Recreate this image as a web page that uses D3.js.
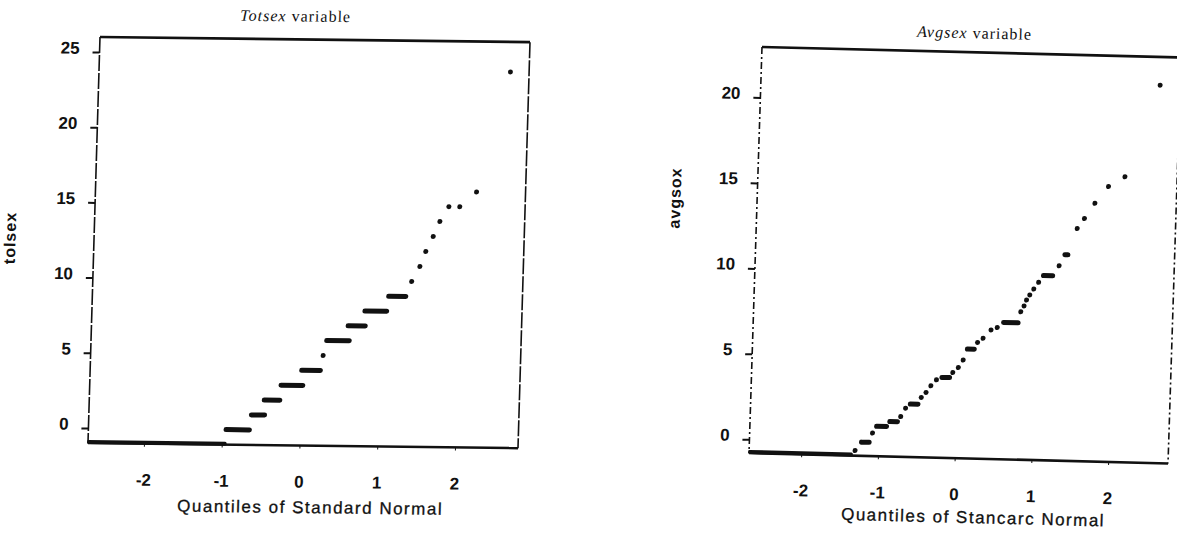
<!DOCTYPE html>
<html>
<head>
<meta charset="utf-8">
<script src="https://cdn.jsdelivr.net/npm/d3@7"></script>
<style>
  body { margin: 0; background: #fff; }
  svg { display: block; }
  text { font-family: "Liberation Sans", Arial, sans-serif; fill: #111; }
</style>
</head>
<body>
<div class="chart"></div>
<script>
// Totsex: tied values show up as runs over a range of normal quantiles
const totsexValues = [-1, 0, 1, 2, 3, 4, 5, 6, 7, 8, 9, 10, 11, 12, 13, 14, 15, 15, 16, 24]
const totsexQStart = [-2.70, -0.95, -0.63, -0.47, -0.26, 0.00, 0.27, 0.31, 0.58, 0.79, 1.09, 1.38, 1.48, 1.55, 1.64, 1.72, 1.83, 1.97, 2.18, 2.57]
const totsexQEnd   = [-0.97, -0.65, -0.46, -0.27, 0.02, 0.24, 0.27, 0.60, 0.80, 1.07, 1.31, 1.38, 1.48, 1.55, 1.64, 1.72, 1.83, 1.97, 2.18, 2.57]

// Avgsex
const avgsexValues = [-0.8, -0.5, 0.0, 0.55, 0.95, 1.25, 1.55, 2.05, 2.3, 2.7, 3.0, 3.4, 3.75, 3.9, 4.2, 4.5, 4.95, 5.6, 6.0, 6.25, 6.75, 6.9, 7.2, 7.85, 8.2, 8.55, 8.85, 9.2, 9.6, 10.0, 10.6, 11.25, 12.8, 13.4, 14.3, 15.3, 15.9, 21.3]
const avgsexQStart = [-2.66, -1.30, -1.22, -1.08, -1.03, -0.86, -0.72, -0.66, -0.60, -0.46, -0.40, -0.34, -0.27, -0.20, -0.06, 0.01, 0.07, 0.12, 0.25, 0.32, 0.42, 0.50, 0.58, 0.80, 0.84, 0.87, 0.91, 0.96, 1.02, 1.08, 1.28, 1.35, 1.50, 1.59, 1.72, 1.89, 2.10, 2.52]
const avgsexQEnd   = [-1.36, -1.30, -1.12, -1.08, -0.90, -0.76, -0.72, -0.66, -0.50, -0.46, -0.40, -0.34, -0.27, -0.10, -0.06, 0.01, 0.07, 0.21, 0.25, 0.32, 0.42, 0.50, 0.77, 0.80, 0.84, 0.87, 0.91, 0.96, 1.02, 1.20, 1.28, 1.39, 1.50, 1.59, 1.72, 1.89, 2.10, 2.52]

const xTicks = [-2, -1, 0, 1, 2]
const totsexYTicks = [0, 5, 10, 15, 20, 25]
const avgsexYTicks = [0, 5, 10, 15, 20]

const width = 1177
const height = 539

const svg = d3.select(".chart")
    .append("svg")
    .attr("width", width)
    .attr("height", height)

// the scanned page is a little skewed, so each panel gets its own affine transform
const panels = [
    {
        values: totsexValues, qStart: totsexQStart, qEnd: totsexQEnd, yTicks: totsexYTicks,
        x0: 100, y0: 37, skewY: 0.012, skewX: -0.0296, w: 430, h: 406,
        xDomain: [-2.72, 2.81], yDomain: [-1, 26],
        titleItalic: "Totsex", titleX: 195, titleY: -24,
        ylab: "tolsex", ylabX: -84, ylabY: 202,
        xlab: "Quantiles of Standard Normal", xlabX: 224, xlabY: 468,
        sideDash: "16,2"
    },
    {
        values: avgsexValues, qStart: avgsexQStart, qEnd: avgsexQEnd, yTicks: avgsexYTicks,
        x0: 762, y0: 47, skewY: 0.025, skewX: -0.032, w: 419, h: 406,
        xDomain: [-2.68, 2.78], yDomain: [-0.8, 22.95],
        titleItalic: "Avgsex", titleX: 212, titleY: -20,
        ylab: "avgsox", ylabX: -82, ylabY: 153,
        xlab: "Quantiles of Stancarc Normal", xlabX: 226, xlabY: 465,
        sideDash: "7,3,2,3"
    }
]

panels.forEach(p => {
    const g = svg.append("g")
        .attr("transform", `matrix(1,${p.skewY},${p.skewX},1,${p.x0},${p.y0})`)

    const x = d3.scaleLinear().domain(p.xDomain).range([0, p.w])
    const y = d3.scaleLinear().domain(p.yDomain).range([p.h, 0])

    // frame: heavy top/bottom, broken thin sides like the scan
    g.append("line").attr("x1", 0).attr("x2", p.w).attr("y1", 0).attr("y2", 0)
        .style("stroke", "#111").style("stroke-width", 2.6)
    g.append("line").attr("x1", 0).attr("x2", p.w).attr("y1", p.h).attr("y2", p.h)
        .style("stroke", "#111").style("stroke-width", 2.6)
    ;[0, p.w].forEach(xx => {
        g.append("line").attr("x1", xx).attr("x2", xx).attr("y1", 0).attr("y2", p.h)
            .style("stroke", "#111").style("stroke-width", 1.6)
            .style("stroke-dasharray", p.sideDash)
    })

    const yAxis = g.append("g")
        .call(d3.axisLeft(y).tickValues(p.yTicks).tickSize(7).tickPadding(13).tickFormat(d => String(d)))
    yAxis.select(".domain").remove()
    yAxis.selectAll(".tick line").style("stroke", "#111").style("stroke-width", 2)
    yAxis.selectAll("text")
        .attr("y", -4)
        .style("font-size", "17px")
        .style("font-weight", "bold")
        .style("fill", "#111")

    const xAxis = g.append("g")
        .attr("transform", `translate(0,${p.h})`)
        .call(d3.axisBottom(x).tickValues(xTicks).tickSize(3).tickPadding(27).tickFormat(d => String(d)))
    xAxis.select(".domain").remove()
    xAxis.selectAll(".tick line").style("stroke", "#111").style("stroke-width", 1)
    xAxis.selectAll("text")
        .style("font-size", "17px")
        .style("font-weight", "bold")
        .style("fill", "#111")

    const runs = p.values.map((v, i) => ({ value: v, q0: p.qStart[i], q1: p.qEnd[i] }))
    const r = 2.5

    // points sitting on the bottom edge merge into the frame as a bumpy line
    const onEdge = d => d.value <= p.yDomain[0]

    g.append("g").selectAll("rect")
        .data(runs)
        .enter()
        .append("rect")
        .attr("x", d => x(d.q0) - r)
        .attr("y", d => y(d.value) - (onEdge(d) ? 3 : r))
        .attr("width", d => x(d.q1) - x(d.q0) + 2 * r)
        .attr("height", d => onEdge(d) ? 4 : 2 * r)
        .attr("rx", d => onEdge(d) ? 1.5 : r)
        .style("fill", "#111")

    const title = g.append("text")
        .attr("x", p.titleX)
        .attr("y", p.titleY)
        .attr("text-anchor", "middle")
        .attr("dominant-baseline", "central")
        .style("font-family", "'Liberation Serif', 'Times New Roman', serif")
        .style("font-size", "16px")
        .style("letter-spacing", "1px")
    title.append("tspan").style("font-style", "italic").text(p.titleItalic)
    title.append("tspan").text(" variable")

    g.append("text")
        .attr("transform", `translate(${p.ylabX},${p.ylabY}) rotate(-90)`)
        .attr("text-anchor", "middle")
        .attr("dominant-baseline", "central")
        .style("font-size", "16px")
        .style("font-weight", "bold")
        .style("letter-spacing", "1px")
        .text(p.ylab)

    g.append("text")
        .attr("x", p.xlabX)
        .attr("y", p.xlabY)
        .attr("text-anchor", "middle")
        .attr("dominant-baseline", "central")
        .style("font-size", "17px")
        .style("letter-spacing", "1.5px")
        .style("stroke", "#111")
        .style("stroke-width", 0.3)
        .text(p.xlab)
})
</script>
</body>
</html>
